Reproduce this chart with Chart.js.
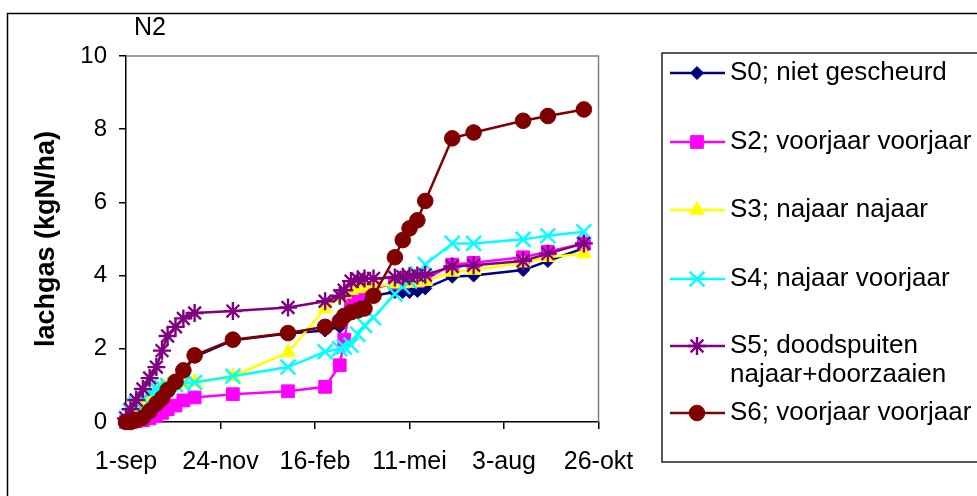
<!DOCTYPE html>
<html>
<head>
<meta charset="utf-8">
<script src="https://cdn.jsdelivr.net/npm/chart.js@4.4.1/dist/chart.umd.min.js"></script>
<style>
  html,body{margin:0;padding:0;background:#fff}
  #wrap{position:relative;width:977px;height:496px;overflow:hidden}
</style>
</head>
<body>
<div id="wrap"><canvas id="chart" width="977" height="496"></canvas></div>
<script>
// N2 - cumulatieve lachgas emissie per behandeling
// dagen sinds 1-sep
const days = [0, 4, 9, 15, 21, 27, 32, 37, 44, 51, 61, 95, 144, 177, 190, 194, 200, 206, 212, 220, 239, 246, 252, 259, 266, 290, 309, 353, 375, 407];
const xTickLabels = ['1-sep', '24-nov', '16-feb', '11-mei', '3-aug', '26-okt'];

const s0 = [0, 0.02, 0.05, 0.12, 0.28, 0.45, 0.6, 0.8, 1.0, 1.38, 1.78, 2.23, 2.42, 2.5, 2.6, 2.8, 3.0, 3.2, 3.38, 3.45, 3.55, 3.55, 3.55, 3.58, 3.65, 3.97, 4.0, 4.15, 4.4, 4.75];
const s2 = [0, 0, 0.02, 0.05, 0.1, 0.17, 0.25, 0.35, 0.45, 0.59, 0.67, 0.76, 0.84, 0.96, 1.55, 2.25, 3.3, 3.5, 3.6, 3.65, 3.8, 3.82, 3.85, 3.85, 3.9, 4.3, 4.35, 4.5, 4.65, 4.88];
const s3 = [0.05, 0.15, 0.3, 0.5, 0.7, 0.85, 0.95, 1.0, 1.02, 1.05, 1.1, 1.25, 1.9, 3.1, 3.4, 3.5, 3.6, 3.65, 3.7, 3.7, 3.78, 3.8, 3.8, 3.82, 3.85, 4.1, 4.15, 4.35, 4.5, 4.6];
const s4 = [0.1, 0.3, 0.5, 0.65, 0.8, 0.9, 0.95, 1.0, 1.02, 1.05, 1.08, 1.25, 1.5, 1.92, 2.0, 2.05, 2.1, 2.4, 2.64, 2.85, 3.5, 3.7, 3.85, 4.05, 4.3, 4.88, 4.88, 4.99, 5.09, 5.2];
const s5 = [0.1, 0.35, 0.6, 0.9, 1.2, 1.5, 1.95, 2.35, 2.6, 2.83, 2.98, 3.03, 3.13, 3.3, 3.45, 3.6, 3.85, 3.9, 3.92, 3.92, 3.95, 3.97, 3.98, 4.0, 4.02, 4.25, 4.28, 4.4, 4.6, 4.88];
const s6 = [0, 0, 0.05, 0.12, 0.3, 0.5, 0.65, 0.87, 1.1, 1.41, 1.82, 2.25, 2.43, 2.6, 2.75, 2.9, 3.0, 3.05, 3.1, 3.45, 4.5, 4.97, 5.29, 5.51, 6.04, 7.75, 7.91, 8.23, 8.36, 8.54];

const seriesNames = [
  ['S0; niet gescheurd'],
  ['S2; voorjaar voorjaar'],
  ['S3; najaar najaar'],
  ['S4; najaar voorjaar'],
  ['S5; doodspuiten', 'najaar+doorzaaien'],
  ['S6; voorjaar voorjaar']
];
const seriesValues = [s0, s2, s3, s4, s5, s6];

// styles
const colors = ['#000080', '#FF00FF', '#FFFF00', '#00FFFF', '#800080', '#800000'];
const markers = ['rectRot', 'rect', 'triangle', 'crossRot', 'star', 'circle'];
const radii = [6.5, 9, 8.5, 10.5, 9, 7.8];
const FONT = "'Liberation Sans', Arial, sans-serif";

const datasets = seriesValues.map((vals, i) => {
  const open = markers[i] === 'crossRot' || markers[i] === 'star';
  return {
    label: seriesNames[i].join(' '),
    data: days.map((d, k) => ({x: d, y: vals[k]})),
    showLine: true,
    borderColor: colors[i],
    backgroundColor: colors[i],
    borderWidth: 2.5,
    pointStyle: markers[i],
    pointRadius: radii[i],
    pointBorderWidth: open ? 2.4 : 1,
    pointBackgroundColor: open ? 'rgba(0,0,0,0)' : colors[i],
    pointBorderColor: colors[i],
    tension: 0,
    clip: false,
    order: seriesValues.length - i
  };
});

// frame, titles and legend
const decor = {
  id: 'decor',
  beforeDatasetsDraw(chart){
    const {ctx, chartArea: a} = chart;
    ctx.save();
    ctx.strokeStyle = '#808080';
    ctx.lineWidth = 1.5;
    ctx.beginPath();
    ctx.moveTo(a.left, a.top); ctx.lineTo(a.right, a.top); ctx.lineTo(a.right, a.bottom);
    ctx.stroke();
    ctx.restore();
  },
  afterDraw(chart){
    const {ctx, chartArea: a} = chart;
    ctx.save();
    // outer border
    ctx.strokeStyle = '#000';
    ctx.lineWidth = 1.5;
    ctx.strokeRect(7.5, 13.5, 1100, 600);
    // titles
    ctx.fillStyle = '#000';
    ctx.font = '25px ' + FONT;
    ctx.textBaseline = 'middle';
    ctx.textAlign = 'left';
    ctx.fillText('N2', 134, 28);
    ctx.save();
    ctx.translate(47, (a.top + a.bottom) / 2);
    ctx.rotate(-Math.PI / 2);
    ctx.textAlign = 'center';
    ctx.font = 'bold 27px ' + FONT;
    ctx.fillText('lachgas (kgN/ha)', 0, 0);
    ctx.restore();
    // legend box
    ctx.strokeStyle = '#222';
    ctx.lineWidth = 1.5;
    ctx.strokeRect(662, 53, 400, 409);
    const rowY = [73, 142, 210, 279, 346, 413];
    ctx.font = '26px ' + FONT;
    seriesNames.forEach((lines, i) => {
      const y = rowY[i];
      ctx.strokeStyle = colors[i];
      ctx.fillStyle = colors[i];
      ctx.lineWidth = 2.5;
      ctx.beginPath(); ctx.moveTo(670, y); ctx.lineTo(725, y); ctx.stroke();
      const open = markers[i] === 'crossRot' || markers[i] === 'star';
      if (Chart.helpers && Chart.helpers.drawPoint) {
        ctx.lineWidth = open ? 2.4 : 1;
        Chart.helpers.drawPoint(ctx, {pointStyle: markers[i], radius: radii[i], borderWidth: open ? 2.4 : 1, rotation: 0}, 697, y);
      }
      ctx.fillStyle = '#000';
      lines.forEach((t, j) => ctx.fillText(t, 730, y + j * 29));
    });
    ctx.restore();
  }
};

new Chart(document.getElementById('chart'), {
  type: 'scatter',
  data: {datasets},
  plugins: [decor],
  options: {
    responsive: false,
    animation: false,
    devicePixelRatio: 1,
    layout: {padding: {left: 10, top: 56, right: 378.5, bottom: 0}},
    plugins: {legend: {display: false}, tooltip: {enabled: false}},
    scales: {
      x: {
        type: 'linear', min: 0, max: 420,
        afterFit(s){ s.height = 74; },
        afterBuildTicks(s){ s.ticks = xTickLabels.map((_, i) => ({value: i * 84})); },
        ticks: {
          callback: (v) => xTickLabels[Math.round(v / 84)],
          color: '#000', font: {family: FONT, size: 25}, padding: 18, maxRotation: 0, autoSkip: false
        },
        grid: {drawOnChartArea: false, drawTicks: true, tickLength: 7, color: '#000', lineWidth: 1.5},
        border: {color: '#000', width: 1.5}
      },
      y: {
        min: 0, max: 10,
        afterFit(s){ s.width = 116; },
        ticks: {stepSize: 2, color: '#000', font: {family: FONT, size: 24}, padding: 12},
        grid: {drawOnChartArea: false, drawTicks: true, tickLength: 7, color: '#000', lineWidth: 1.5},
        border: {color: '#000', width: 1.5}
      }
    }
  }
});
</script>
</body>
</html>
